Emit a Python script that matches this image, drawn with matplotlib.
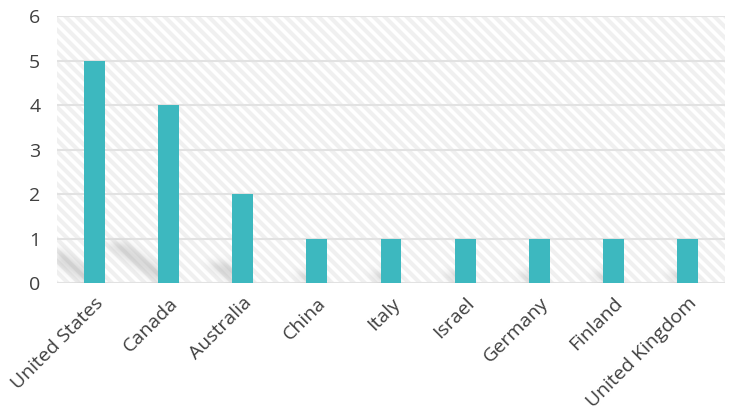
import numpy as np
import matplotlib

matplotlib.use("Agg")
import matplotlib.pyplot as plt
from matplotlib.lines import Line2D

countries = ["United States", "Canada", "Australia", "China", "Italy",
             "Israel", "Germany", "Finland", "United Kingdom"]
counts = [5, 4, 2, 1, 1, 1, 1, 1, 1]
y_ticks = [0, 1, 2, 3, 4, 5, 6]

BAR_COLOR = "#3db8bf"
TEXT_COLOR = "#404040"
GRID_COLOR = "#e2e2e2"
BAR_WIDTH = 0.28

plt.rcParams["font.family"] = ["Open Sans", "DejaVu Sans"]

fig = plt.figure(figsize=(7.36, 4.2), dpi=100)
ax = fig.add_axes([57 / 736, 137 / 420, 668 / 736, 267 / 420])
x = np.arange(len(countries))
ax.set_xlim(-0.5, len(countries) - 0.5)
ax.set_ylim(0, 6)

# diagonal striped background, drawn in axes fraction
ax_w, ax_h = 668.0, 267.0
step = 11.0 / ax_w
dx = ax_h / ax_w
for x0 in np.arange(-dx - step, 1 + step, step):
    ax.add_line(Line2D([x0, x0 + dx], [1, 0], transform=ax.transAxes,
                       color="#f0f0f0", lw=3.0, zorder=0, clip_on=True))

# soft skewed shadows cast by the bars (blurred raster)
px_per_unit = ax_h / 6
px_per_x = ax_w / len(countries)
kx, ky = 0.30, 0.22
yy, xx = np.mgrid[0:int(ax_h), 0:int(ax_w)]
height = (ax_h - 1 - yy).astype(float)
mask = np.zeros_like(height)
for i, v in enumerate(counts):
    hp = v * px_per_unit
    xc = (i + 0.5) * px_per_x
    xl = xc - BAR_WIDTH / 2 * px_per_x
    xr = xc + BAR_WIDTH / 2 * px_per_x
    shift = height * kx / ky
    inside = (height <= hp * ky) & (xx >= xl - shift) & (xx <= xr - shift)
    mask[inside] = 1.0


def blur(img, sigma):
    r = int(3 * sigma)
    k = np.exp(-0.5 * (np.arange(-r, r + 1) / sigma) ** 2)
    k /= k.sum()
    img = np.apply_along_axis(lambda m: np.convolve(m, k, mode="same"), 0, img)
    img = np.apply_along_axis(lambda m: np.convolve(m, k, mode="same"), 1, img)
    return img


mask = blur(mask, 4.0)
rgba = np.zeros(mask.shape + (4,))
rgba[..., :3] = 0.5
rgba[..., 3] = np.clip(mask * 0.32, 0, 1)
ax.imshow(rgba, extent=[0, 1, 0, 1], transform=ax.transAxes, aspect="auto",
          zorder=1, interpolation="bilinear")

ax.set_yticks(y_ticks)
ax.yaxis.grid(True, color=GRID_COLOR, lw=1.5, zorder=2)
ax.set_axisbelow(True)
ax.bar(x, counts, width=BAR_WIDTH, color=BAR_COLOR, zorder=3)

for s in ax.spines.values():
    s.set_visible(False)
ax.tick_params(axis="both", length=0, labelsize=14, labelcolor=TEXT_COLOR)
ax.tick_params(axis="y", pad=12)
ax.tick_params(axis="x", pad=8)
ax.set_xticks(x)
ax.set_xticklabels(countries, rotation=45, ha="right", va="top",
                   rotation_mode="anchor")

fig.savefig("out.png", dpi=100)
